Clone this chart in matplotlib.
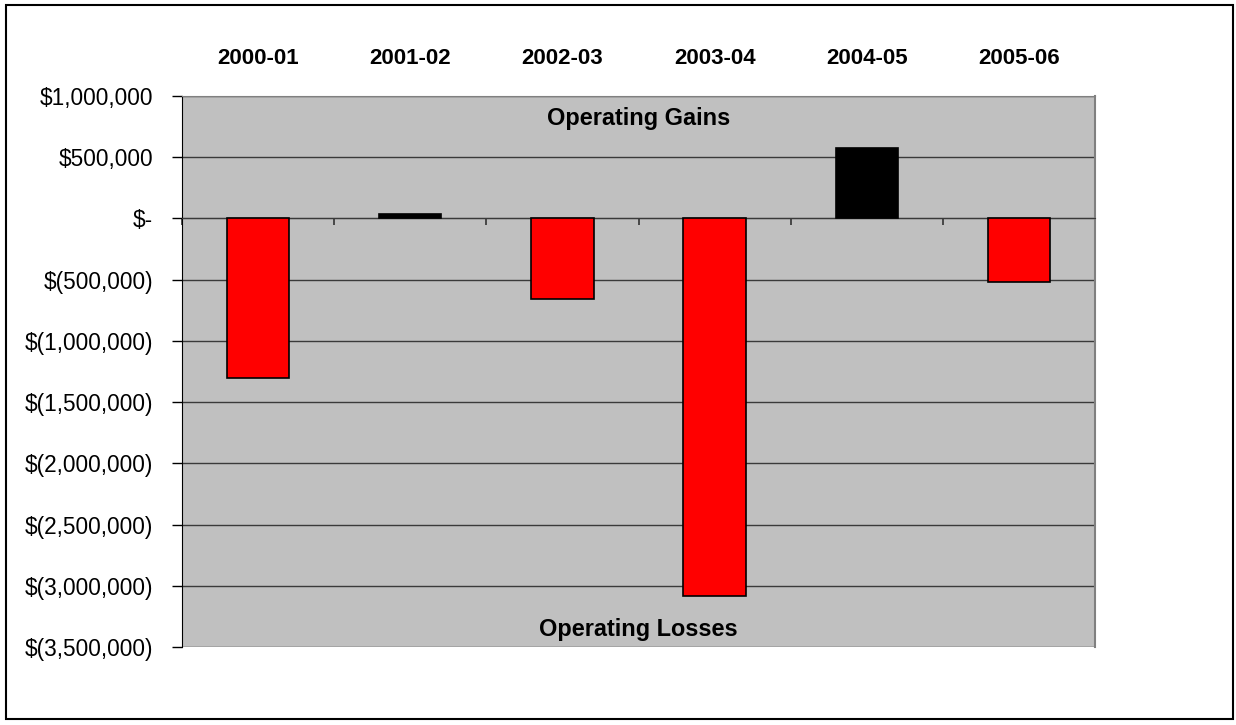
import numpy as np
import matplotlib
matplotlib.use('Agg')
import matplotlib.pyplot as plt
from matplotlib.ticker import FuncFormatter, FixedLocator
from matplotlib.patches import Rectangle

# 数据
seasons = ['2000-01', '2001-02', '2002-03', '2003-04', '2004-05', '2005-06']
net_result = [-1305000, 40000, -660000, -3085000, 572000, -520000]
y_ticks = [1000000, 500000, 0, -500000, -1000000, -1500000, -2000000,
           -2500000, -3000000, -3500000]

plt.rcParams['font.family'] = ['Liberation Sans', 'DejaVu Sans']

fig = plt.figure(figsize=(12.36, 7.25), dpi=100)
ax = fig.add_axes([182 / 1236, 1 - 647 / 725, (1095 - 182) / 1236, (647 - 96) / 725])
ax.set_facecolor('#C0C0C0')

# 外框
fig.patches.append(Rectangle((6 / 1236, 6 / 725), 1227 / 1236, 714 / 725,
                             transform=fig.transFigure, fill=False,
                             edgecolor='black', linewidth=1.5))

x = np.arange(len(seasons))
colors = ['black' if v > 0 else '#FF0000' for v in net_result]
ax.bar(x, net_result, width=0.41, color=colors, edgecolor='black', linewidth=1.2, zorder=3)

ax.set_xlim(-0.5, len(seasons) - 0.5)
ax.set_ylim(min(y_ticks), max(y_ticks))
ax.yaxis.set_major_locator(FixedLocator(y_ticks))
ax.grid(axis='y', color='#3a3a3a', linewidth=1, zorder=1)
ax.set_axisbelow(True)


def money(v, pos):
    v = int(round(v))
    if v == 0:
        return '$-'
    if v < 0:
        return '$({:,})'.format(-v)
    return '${:,}'.format(v)


ax.yaxis.set_major_formatter(FuncFormatter(money))
ax.tick_params(axis='y', direction='out', length=7, width=1, labelsize=16.3, pad=14)

# 零线上的刻度
ax.spines['bottom'].set_position(('data', 0))
ax.spines['bottom'].set_color('#3a3a3a')
ax.xaxis.set_minor_locator(FixedLocator(np.arange(-0.5, len(seasons), 1.0)))
ax.tick_params(axis='x', which='minor', bottom=True, top=False, direction='out',
               length=5, width=1.2, color='#333333')

# 类别标签在上方
ax.set_xticks(x)
ax.tick_params(axis='x', which='major', top=False, bottom=False,
               labeltop=True, labelbottom=False, pad=16, labelsize=16)
ax.set_xticklabels(seasons, fontweight='bold', fontsize=16)

ax.spines['left'].set_color('black')
ax.spines['top'].set_color('#808080')
ax.spines['right'].set_color('#808080')
ax.spines['right'].set_linewidth(1.5)

ax.text(0.5, 0.96, 'Operating Gains', transform=ax.transAxes, ha='center', va='center',
        fontsize=16.9, fontweight='bold')
ax.text(0.5, 0.031, 'Operating Losses', transform=ax.transAxes, ha='center', va='center',
        fontsize=16.9, fontweight='bold')

plt.savefig('out.png', dpi=100)
